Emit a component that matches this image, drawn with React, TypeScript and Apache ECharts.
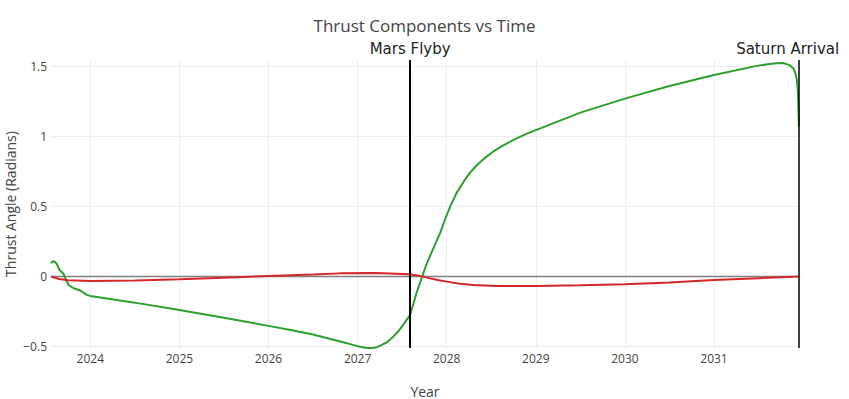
import React, { useEffect, useRef } from "react";
import * as echarts from "echarts";

const yearTicks = [2024, 2025, 2026, 2027, 2028, 2029, 2030, 2031];
const yTicks = [-0.5, 0, 0.5, 1, 1.5];

const greenYears = [
  2023.559, 2023.582, 2023.6, 2023.619, 2023.656, 2023.7, 2023.727, 2023.757, 2023.813,
  2023.888, 2023.955, 2024.0, 2024.5, 2025.0, 2025.5, 2026.0, 2026.25, 2026.5, 2026.805, 2026.99,
  2027.07, 2027.14, 2027.2, 2027.25, 2027.33, 2027.4, 2027.46, 2027.51, 2027.55, 2027.59,
  2027.66, 2027.72, 2027.777, 2027.85, 2027.926, 2027.98, 2028.04, 2028.11,
  2028.19, 2028.26, 2028.34, 2028.43, 2028.52, 2028.63, 2028.75, 2028.9, 2029.05, 2029.5,
  2030.0, 2030.5, 2031.0, 2031.48, 2031.6, 2031.7, 2031.77, 2031.81, 2031.85,
  2031.89, 2031.915, 2031.93, 2031.94, 2031.946, 2031.954,
];
const greenValues = [
  0.094, 0.11, 0.105, 0.094, 0.046, 0.018, -0.025, -0.061, -0.084,
  -0.1, -0.13, -0.139, -0.187, -0.239, -0.295, -0.353, -0.383, -0.415, -0.465, -0.496,
  -0.507, -0.512, -0.508, -0.496, -0.47, -0.43, -0.39, -0.346, -0.31, -0.275,
  -0.12, -0.01, 0.094, 0.2, 0.309, 0.405, 0.5, 0.595,
  0.677, 0.74, 0.796, 0.847, 0.891, 0.935, 0.975, 1.02, 1.058, 1.17,
  1.27, 1.36, 1.439, 1.504, 1.515, 1.523, 1.525, 1.518, 1.508,
  1.487, 1.45, 1.404, 1.33, 1.237, 1.07,
];

const redYears = [
  2023.559, 2023.65, 2023.75, 2024.0, 2024.5, 2025.0, 2025.5, 2026.0, 2026.5, 2026.8,
  2027.2, 2027.59, 2027.7, 2027.8, 2027.9, 2028.0, 2028.15, 2028.3, 2028.56, 2029.0,
  2029.5, 2030.0, 2030.5, 2031.0, 2031.5, 2031.954,
];
const redValues = [
  0, -0.018, -0.027, -0.032, -0.028, -0.02, -0.009, 0.003, 0.014, 0.022,
  0.025, 0.016, 0.004, -0.012, -0.025, -0.037, -0.052, -0.061, -0.068, -0.068,
  -0.063, -0.055, -0.044, -0.025, -0.012, 0,
];

const zeroYears = [2023.559, 2031.954];
const zeroValues = [0, 0];

const eventNames = ["Mars Flyby", "Saturn Arrival"];
const eventYears = [2027.59, 2031.954];

const X_MIN = 2023.559;
const X_MAX = 2031.954;
const Y_MIN = -0.511;
const Y_MAX = 1.546;

const zip = (xs: number[], ys: number[]) => xs.map((x, i) => [x, ys[i]]);

export default function App() {
  const ref = useRef<HTMLDivElement>(null);
  useEffect(() => {
    if (!ref.current) return;
    const chart = echarts.init(ref.current, undefined, { renderer: "svg" });
    const axisText = { fontFamily: "Open Sans", fontSize: 12, color: "#444" };
    chart.setOption({
      animation: false,
      backgroundColor: "#fff",
      title: {
        text: "Thrust Components vs Time",
        left: "center",
        top: 12,
        textStyle: { fontFamily: "Open Sans", fontSize: 17, fontWeight: "normal", color: "#444" },
      },
      grid: { left: 51, right: 50, top: 60, bottom: 51, containLabel: false, outerBoundsMode: "none" },
      xAxis: {
        type: "value",
        min: X_MIN,
        max: X_MAX,
        name: "Year",
        nameLocation: "middle",
        nameGap: 36,
        nameMoveOverlap: false,
        nameTextStyle: { fontFamily: "Open Sans", fontSize: 14, color: "#444" },
        axisLine: { show: false },
        axisTick: { show: false, customValues: yearTicks },
        axisLabel: { ...axisText, customValues: yearTicks, margin: 4, formatter: (v: number) => String(Math.round(v)) },
        splitLine: { show: true, lineStyle: { color: "#eee", width: 1 } },
      },
      yAxis: {
        type: "value",
        min: Y_MIN,
        max: Y_MAX,
        name: "Thrust Angle (Radians)",
        nameLocation: "middle",
        nameGap: 34,
        nameMoveOverlap: false,
        nameTextStyle: { fontFamily: "Open Sans", fontSize: 14, color: "#444" },
        axisLine: { show: false },
        axisTick: { show: false, customValues: yTicks },
        axisLabel: {
          ...axisText,
          customValues: yTicks,
          margin: 4,
          formatter: (v: number) => (v < 0 ? "\u2212" + String(Math.abs(v)) : String(v)),
        },
        splitLine: { show: true, lineStyle: { color: "#eee", width: 1 } },
      },
      series: [
        {
          name: "zero",
          type: "line",
          data: zip(zeroYears, zeroValues),
          symbol: "none",
          lineStyle: { color: "#7f7f7f", width: 1.5 },
          z: 1,
        },
        {
          name: "Green",
          type: "line",
          data: zip(greenYears, greenValues),
          symbol: "none",
          lineStyle: { color: "#2ca02c", width: 2 },
          z: 2,
        },
        {
          name: "Red",
          type: "line",
          data: zip(redYears, redValues),
          symbol: "none",
          lineStyle: { color: "#d62728", width: 2 },
          z: 3,
          markLine: {
            silent: true,
            symbol: ["none", "none"],
            animation: false,
            data: eventYears.map((x, i) => ({
              xAxis: x,
              name: eventNames[i],
              lineStyle: { color: "#000", width: i === 0 ? 2 : 1.5, type: "solid" },
              label: {
                show: true,
                position: "end",
                formatter: "{b}",
                fontFamily: "DejaVu Sans",
                fontSize: 15,
                color: "#222",
                distance: 4,
                padding: i === 1 ? [0, 22, 0, 0] : 0,
              },
            })),
          },
        },
      ],
    });
    return () => chart.dispose();
  }, []);
  return <div ref={ref} style={{ position: "fixed", left: 0, top: 0, width: 849, height: 399 }} />;
}
